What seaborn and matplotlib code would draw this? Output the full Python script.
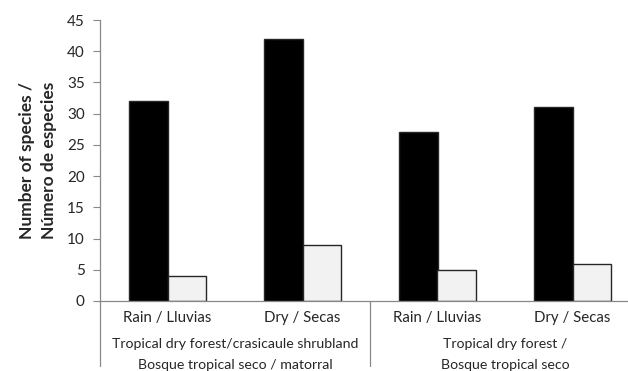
import pandas as pd
import matplotlib
matplotlib.use("Agg")
import matplotlib.pyplot as plt
import seaborn as sns

# data
seasons = ['Rain / Lluvias', 'Dry / Secas', 'Rain / Lluvias', 'Dry / Secas']
habitats = ['Tropical dry forest/crasicaule shrubland\nBosque tropical seco / matorral',
            'Tropical dry forest /\nBosque tropical seco']
series_a = [32, 42, 27, 31]
series_b = [4, 9, 5, 6]

keys = [f'{s}_{i}' for i, s in enumerate(seasons)]
df = pd.DataFrame({
    'key': keys * 2,
    'series': ['A'] * 4 + ['B'] * 4,
    'value': series_a + series_b,
})

sns.set_style('white')
plt.rcParams['font.family'] = ['Lato', 'DejaVu Sans']

fig = plt.figure(figsize=(6.28, 3.71), dpi=100)
ax = fig.add_axes([100 / 628, 1 - 301 / 371, 540 / 628, 281 / 371])

sns.barplot(data=df, x='key', y='value', hue='series', order=keys,
            palette={'A': '#000000', 'B': '#f2f2f2'}, edgecolor='#262626',
            linewidth=1, width=0.575, ax=ax, legend=False)

ax.set_ylim(0, 45)
ax.set_xlim(-0.5, 3.5)
ax.set_yticks(range(0, 46, 5))
ax.tick_params(axis='y', labelsize=11, colors='#262626', length=5, width=0.8,
               left=True, pad=6)
ax.tick_params(axis='y', color='#888888')
ax.set_xticks(range(4))
ax.set_xticklabels(seasons, fontsize=10.8, color='#262626')
ax.tick_params(axis='x', length=0, pad=7)
ax.set_xlabel('')
ax.set_ylabel('Number of species /\nNúmero de especies', fontsize=12.5,
              fontweight='bold', labelpad=7, linespacing=1.5)

for side in ['top', 'right']:
    ax.spines[side].set_visible(False)
for side in ['left', 'bottom']:
    ax.spines[side].set_color('#888888')
    ax.spines[side].set_linewidth(0.9)

# group labels and separators below the axis
trans = ax.get_xaxis_transform()
for i, label in enumerate(habitats):
    ax.text(i * 2 + 0.5, -0.13, label, transform=trans, ha='center', va='top',
            fontsize=10.2, color='#262626', linespacing=1.95)
for xpos in [-0.5, 1.5]:
    ax.plot([xpos, xpos], [0, -0.23], transform=trans, color='#888888',
            linewidth=0.9, clip_on=False)

fig.savefig('out.png', dpi=100)
